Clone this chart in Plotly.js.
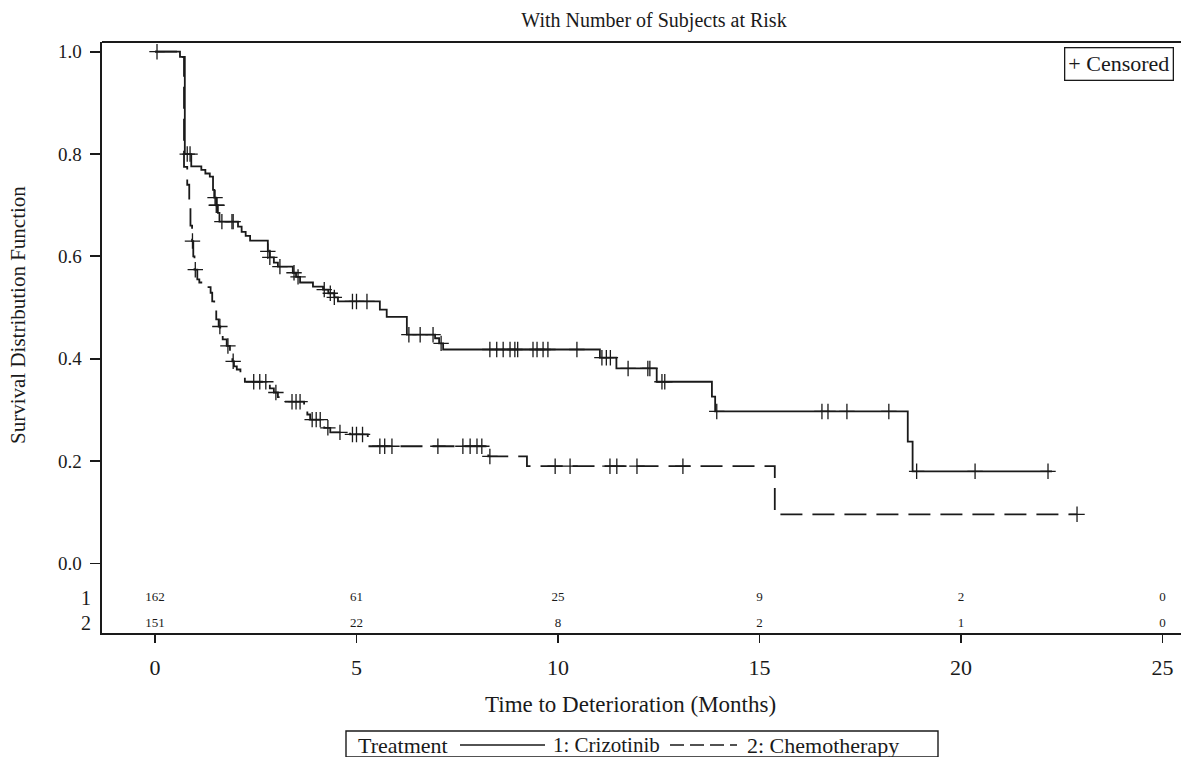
<!DOCTYPE html>
<html>
<head>
<meta charset="utf-8">
<script src="https://cdn.plot.ly/plotly-3.0.1.min.js"></script>
<style>html,body{margin:0;padding:0;background:#fff;}#chart{width:1181px;height:757px;}</style>
</head>
<body>
<div id="chart"></div>
<script>
// ---- Data ----
const crizTimes = [0, 0.62, 0.74, 0.9, 1.15, 1.25, 1.36, 1.44, 1.47, 1.52, 1.56, 1.6, 2.06, 2.15, 2.25, 2.36, 2.8, 2.85, 2.95, 3.05, 3.42, 3.5, 3.6, 3.92, 4.17, 4.3, 4.45, 4.54, 5.58, 5.75, 6.25, 6.95, 7.05, 7.15, 11.04, 11.45, 12.45, 13.82, 13.9, 18.68, 18.8];
const crizSurv  = [1.0, 0.99, 0.80, 0.776, 0.769, 0.762, 0.756, 0.73, 0.715, 0.70, 0.685, 0.668, 0.658, 0.648, 0.640, 0.631, 0.61, 0.598, 0.588, 0.58, 0.568, 0.56, 0.549, 0.541, 0.535, 0.528, 0.52, 0.512, 0.496, 0.482, 0.447, 0.44, 0.43, 0.418, 0.402, 0.381, 0.355, 0.326, 0.297, 0.238, 0.18];
const crizEnd = 22.26;
const crizCensor = [0.05, 0.8, 0.87, 1.49, 1.52, 1.54, 1.66, 1.91, 1.94, 2.8, 2.85, 3.1, 3.45, 3.55, 4.2, 4.35, 4.45, 4.9, 5.0, 5.26, 6.3, 6.58, 6.9, 7.1, 8.31, 8.48, 8.64, 8.81, 8.93, 9.0, 9.38, 9.48, 9.63, 9.75, 10.47, 11.09, 11.2, 11.3, 11.74, 12.23, 12.28, 12.58, 12.65, 13.94, 16.55, 16.7, 17.17, 18.21, 18.9, 20.35, 22.16];

const chemoTimes = [0, 0.62, 0.72, 0.80, 0.85, 0.88, 0.92, 0.95, 0.98, 1.05, 1.1, 1.3, 1.38, 1.42, 1.47, 1.52, 1.58, 1.62, 1.68, 1.78, 1.86, 1.92, 1.96, 2.03, 2.12, 2.23, 2.85, 2.95, 3.05, 3.22, 3.7, 3.78, 3.85, 4.2, 4.35, 4.84, 5.28, 8.27, 9.23, 15.38];
const chemoSurv  = [1.0, 0.99, 0.775, 0.74, 0.70, 0.66, 0.63, 0.60, 0.574, 0.555, 0.549, 0.54, 0.529, 0.512, 0.495, 0.477, 0.463, 0.45, 0.438, 0.425, 0.404, 0.395, 0.385, 0.379, 0.367, 0.355, 0.342, 0.334, 0.325, 0.316, 0.30, 0.291, 0.281, 0.265, 0.256, 0.252, 0.229, 0.209, 0.19, 0.096];
const chemoEnd = 22.88;
const chemoCensor = [0.93, 1.0, 1.61, 1.81, 1.94, 2.45, 2.6, 2.75, 3.0, 3.4, 3.5, 3.6, 3.9, 4.0, 4.1, 4.29, 4.59, 4.9, 5.0, 5.15, 5.58, 5.7, 5.88, 7.02, 7.64, 7.82, 7.99, 8.11, 8.31, 9.93, 10.3, 11.29, 11.46, 11.96, 13.1, 22.88];

const riskTimes = [0, 5, 10, 15, 20, 25];
const riskCriz  = [162, 61, 25, 9, 2, 0];
const riskChemo = [151, 22, 8, 2, 1, 0];
const riskRowLabels = ["1", "2"];

const titleText = "With Number of Subjects at Risk";
const xTitle = "Time to Deterioration (Months)";
const yTitle = "Survival Distribution Function";
const legendTitle = "Treatment";
const seriesNames = ["1: Crizotinib", "2: Chemotherapy"];
const censorLabel = "+ Censored";

// ---- helpers ----
function stepAt(ts, ss, t) {
  let s = ss[0];
  for (let i = 0; i < ts.length; i++) if (ts[i] <= t) s = ss[i];
  return s;
}
const FONT = "Liberation Serif, Times New Roman, serif";
const INK = "#1a1a1a";
const PW = 1079, PH = 591, L = 102, T = 42;
const px = x => (x - L) / PW;
const py = y => (T + PH - y) / PH;
const rowY = [-0.068, -0.117];

const traces = [
  {x: crizTimes.concat([crizEnd]), y: crizSurv.concat([crizSurv[crizSurv.length-1]]),
   mode: "lines", line: {shape: "hv", color: INK, width: 1.8}, showlegend: false, hoverinfo: "skip"},
  {x: chemoTimes.concat([chemoEnd]), y: chemoSurv.concat([chemoSurv[chemoSurv.length-1]]),
   mode: "lines", line: {shape: "hv", color: INK, width: 1.8, dash: "22px,10px"}, showlegend: false, hoverinfo: "skip"},
  {x: crizCensor, y: crizCensor.map(t => stepAt(crizTimes, crizSurv, t)), mode: "markers",
   marker: {symbol: "cross-thin", size: 11, color: INK, line: {color: INK, width: 1.3}}, showlegend: false},
  {x: chemoCensor, y: chemoCensor.map(t => stepAt(chemoTimes, chemoSurv, t)), mode: "markers",
   marker: {symbol: "cross-thin", size: 11, color: INK, line: {color: INK, width: 1.3}}, showlegend: false},
  {x: riskTimes, y: riskTimes.map(() => rowY[0]), mode: "text", text: riskCriz.map(String),
   textfont: {family: FONT, size: 13, color: INK}, textposition: "middle center", cliponaxis: false, showlegend: false},
  {x: riskTimes, y: riskTimes.map(() => rowY[1]), mode: "text", text: riskChemo.map(String),
   textfont: {family: FONT, size: 13, color: INK}, textposition: "middle center", cliponaxis: false, showlegend: false}
];

const annotations = [
  {xref: "paper", yref: "y", x: -0.008, y: rowY[0], text: riskRowLabels[0], showarrow: false, xanchor: "right",
   font: {family: FONT, size: 20, color: INK}},
  {xref: "paper", yref: "y", x: -0.008, y: rowY[1], text: riskRowLabels[1], showarrow: false, xanchor: "right",
   font: {family: FONT, size: 20, color: INK}},
  {xref: "paper", yref: "paper", x: px(18), y: py(315), text: yTitle, textangle: -90, showarrow: false,
   xanchor: "center", yanchor: "middle", font: {family: FONT, size: 21, color: INK}},
  {xref: "paper", yref: "paper", x: px(630), y: py(704), text: xTitle, showarrow: false,
   xanchor: "center", yanchor: "middle", font: {family: FONT, size: 23, color: INK}},
  {xref: "paper", yref: "paper", x: px(1118.5), y: py(64.5), text: censorLabel, showarrow: false,
   xanchor: "center", yanchor: "middle", bordercolor: INK, borderwidth: 1.3, borderpad: 3, bgcolor: "#fff",
   font: {family: FONT, size: 22, color: INK}},
  {xref: "paper", yref: "paper", x: px(356), y: py(745), text: legendTitle, showarrow: false,
   xanchor: "left", yanchor: "middle", font: {family: FONT, size: 22, color: INK}},
  {xref: "paper", yref: "paper", x: px(551), y: py(745), text: seriesNames[0], showarrow: false,
   xanchor: "left", yanchor: "middle", font: {family: FONT, size: 21, color: INK}},
  {xref: "paper", yref: "paper", x: px(745), y: py(745), text: seriesNames[1], showarrow: false,
   xanchor: "left", yanchor: "middle", font: {family: FONT, size: 22, color: INK}}
];

const shapes = [
  {type: "rect", xref: "paper", yref: "paper", x0: px(346), x1: px(938), y0: py(757), y1: py(731),
   line: {color: INK, width: 1.4}, fillcolor: "rgba(0,0,0,0)"},
  {type: "line", xref: "paper", yref: "paper", x0: px(460), x1: px(545), y0: py(745), y1: py(745),
   line: {color: INK, width: 1.6}},
  {type: "line", xref: "paper", yref: "paper", x0: px(670), x1: px(737), y0: py(745), y1: py(745),
   line: {color: INK, width: 1.6, dash: "14px,6px"}},
  {type: "line", xref: "paper", yref: "paper", x0: 0, x1: 1, y0: 1, y1: 1, line: {color: INK, width: 2.2}}
];

const layout = {
  width: 1181, height: 757,
  margin: {l: L, r: 0, t: T, b: 757 - T - PH},
  paper_bgcolor: "#fff", plot_bgcolor: "#fff",
  font: {family: FONT, color: INK},
  title: {text: titleText, x: 654 / 1181, xanchor: "center", y: 1 - 20 / 757, yanchor: "middle",
          font: {family: FONT, size: 20, color: INK}},
  xaxis: {range: [-1.315, 25.46], tickmode: "array", tickvals: riskTimes, ticks: "outside", ticklen: 8,
          tickwidth: 1.8, tickcolor: INK, showline: true, linecolor: INK, linewidth: 2.4, mirror: false,
          showgrid: false, zeroline: false, ticklabelstandoff: 5,
          tickfont: {family: FONT, size: 22, color: INK}},
  yaxis: {range: [-0.136, 1.019], tickmode: "array", tickvals: [0, 0.2, 0.4, 0.6, 0.8, 1.0],
          ticktext: ["0.0", "0.2", "0.4", "0.6", "0.8", "1.0"], ticks: "outside", ticklen: 10,
          tickwidth: 1.8, tickcolor: INK, showline: true, linecolor: INK, linewidth: 2.4,
          showgrid: false, zeroline: false, ticklabelstandoff: 4,
          tickfont: {family: FONT, size: 19, color: INK}},
  shapes: shapes,
  annotations: annotations,
  showlegend: false
};

Plotly.newPlot("chart", traces, layout, {displayModeBar: false, staticPlot: true});
</script>
</body>
</html>
